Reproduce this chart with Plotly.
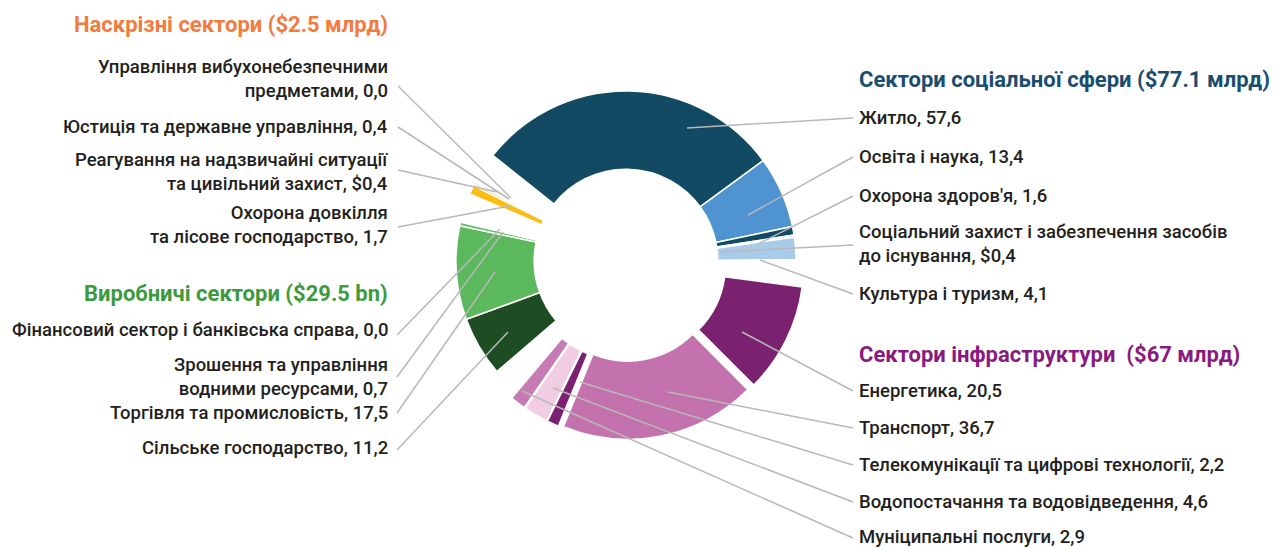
import plotly.graph_objects as go

# ---------------- data ----------------
social_names = ["Житло", "Освіта і наука", "Охорона здоров'я",
                "Соціальний захист і забезпечення засобів<br>до існування", "Культура і туризм"]
social_values = [57.6, 13.4, 1.6, 0.4, 4.1]
social_dollar = [False, False, False, True, False]

infra_names = ["Енергетика", "Транспорт", "Телекомунікації та цифрові технології",
               "Водопостачання та водовідведення", "Муніципальні послуги"]
infra_values = [20.5, 36.7, 2.2, 4.6, 2.9]

prod_names = ["Сільське господарство", "Торгівля та промисловість",
              "Зрошення та управління<br>водними ресурсами", "Фінансовий сектор і банківська справа"]
prod_values = [11.2, 17.5, 0.7, 0.0]

cross_names = ["Охорона довкілля<br>та лісове господарство",
               "Реагування на надзвичайні ситуації<br>та цивільний захист",
               "Юстиція та державне управління",
               "Управління вибухонебезпечними<br>предметами"]
cross_values = [1.7, 0.4, 0.4, 0.0]
cross_dollar = [False, True, False, False]

group_titles = ["Сектори соціальної сфери ($77.1 млрд)",
                "Сектори інфраструктури  ($67 млрд)",
                "Виробничі сектори ($29.5 bn)",
                "Наскрізні сектори ($2.5 млрд)"]

# ---------------- style ----------------
OFF = 8                      # page body margin
W, H = 1282 - OFF, 548 - OFF
GAPS = [4.4, 5.2, 5.45, 5.8]   # blank spacer slices after each group
social_colors = ["#134a63", "#4f93d0", "#134a63", "#dce9f5", "#a9cbea"]
infra_colors = ["#7a2270", "#c472ae", "#7a2270", "#f0cde3", "#c77bb5"]
prod_colors = ["#1e4d23", "#5cb85c", "#6cc06c", "#6cc06c"]
cross_colors = ["#fbbd13", "#f7b500", "#f1d3e9", "#f1d3e9"]
title_colors = ["#1a4e6e", "#8b1a7e", "#3e9a3e", "#f47b3e"]
TXT = "#231f20"
LINE = "#b8b8b8"
FONT = "Roboto"
FS = 18.5
TFS = 22


def fmt(v, dollar=False):
    return ("$" if dollar else "") + f"{v:.1f}".replace(".", ",")


def px(x):
    return (x - OFF) / W


def py(y):
    return 1 - (y - OFF) / H


values, colors, pulls = [], [], []
for (vals, cols, pull), gap in zip([(social_values, social_colors, 0.0),
                                    (infra_values, infra_colors, 0.05),
                                    (prod_values, prod_colors, 0.0),
                                    (cross_values, cross_colors, 0.0)], GAPS):
    values += vals
    colors += cols
    pulls += [pull] * len(vals)
    values.append(gap)
    colors.append("rgba(0,0,0,0)")
    pulls.append(0.0)

line_colors = ["white" if c != "rgba(0,0,0,0)" else "rgba(0,0,0,0)" for c in colors]

cx, cy, R = 626, 261, 170
half = R * 1.05
fig = go.Figure(go.Pie(
    values=values, sort=False, direction="clockwise", rotation=-51.6,
    hole=0.54, pull=pulls, textinfo="none", hoverinfo="skip",
    marker=dict(colors=colors, line=dict(color=line_colors, width=1.5)),
    domain=dict(x=[px(cx - half), px(cx + half)],
                y=[py(cy + half), py(cy - half)]),
    showlegend=False,
))

ann = []


def add_text(x, y, text, anchor, color=TXT, size=FS, bold=False):
    ann.append(dict(x=px(x), y=py(y), xref="paper", yref="paper", text=text,
                    showarrow=False, xanchor=anchor, yanchor="middle",
                    align="left" if anchor == "left" else "right",
                    font=dict(family=FONT, size=size, color=color,
                              weight="bold" if bold else 500)))


# right side
RX = 857
add_text(RX, 79, group_titles[0], "left", title_colors[0], TFS, True)
social_y = [118, 157, 196, 244, 294]
for n, v, d, y in zip(social_names, social_values, social_dollar, social_y):
    add_text(RX, y, f"{n}, {fmt(v, d)}", "left")
add_text(RX, 354, group_titles[1], "left", title_colors[1], TFS, True)
infra_y = [391, 428, 465, 502, 537]
for n, v, y in zip(infra_names, infra_values, infra_y):
    add_text(RX, y, f"{n}, {fmt(v)}", "left")

# left side
LX = 390
add_text(LX, 24, group_titles[3], "right", title_colors[3], TFS, True)
cross_y = [225, 172, 127, 79]
for n, v, d, y in zip(cross_names, cross_values, cross_dollar, cross_y):
    add_text(LX, y, f"{n}, {fmt(v, d)}", "right")
add_text(LX, 293, group_titles[2], "right", title_colors[2], TFS, True)
prod_y = [448, 413, 377, 330]
for n, v, y in zip(prod_names, prod_values, prod_y):
    add_text(LX, y, f"{n}, {fmt(v)}", "right")

# leader lines (label anchor -> point in segment), reference pixel positions
leaders = [
    ((853, 118), (687, 128)), ((853, 157), (748, 215)), ((853, 196), (758, 244)),
    ((853, 245), (720, 252)), ((853, 294), (760, 260)),
    ((853, 391), (742, 332)), ((853, 428), (668, 392)), ((853, 465), (580, 382)),
    ((853, 502), (553, 388)), ((853, 538), (522, 391)),
    ((398, 86), (511, 198)), ((398, 127), (509, 199)), ((398, 170), (497, 192)),
    ((398, 227), (510, 206)),
    ((397, 335), (500, 229)), ((397, 377), (503, 232)), ((397, 413), (495, 272)),
    ((397, 450), (508, 332)),
]
shapes = [dict(type="line", xref="paper", yref="paper", x0=px(a[0]), y0=py(a[1]),
               x1=px(b[0]), y1=py(b[1]), line=dict(color=LINE, width=1.5))
          for a, b in leaders]

fig.update_layout(width=W, height=H, margin=dict(l=0, r=0, t=0, b=0),
                  paper_bgcolor="white", plot_bgcolor="white",
                  annotations=ann, shapes=shapes)
fig.write_html("out.html")
